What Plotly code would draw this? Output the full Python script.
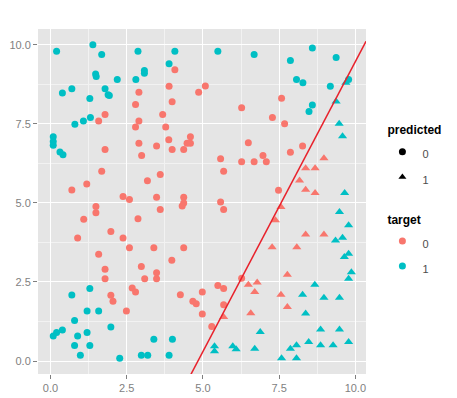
import plotly.graph_objects as go

# target 0, predicted 0 (salmon circles)
t0p0_x = [4.08, 3.89, 4.86, 2.90, 3.99, 2.79, 1.79, 1.58, 3.68, 2.90, 2.79, 3.78, 4.59, 3.88, 4.48, 4.59,
          2.90, 3.48, 3.99, 4.37, 2.99, 1.79, 1.68, 3.60, 3.18, 1.19, 0.70,
          2.38, 2.59, 3.48, 4.37, 4.37, 4.32, 1.49, 1.49,
          1.09, 3.60, 2.87, 0.89, 1.98, 2.38, 2.59, 3.39, 4.37, 3.98, 1.58, 2.98, 1.79, 1.79, 3.09,
          3.48, 3.48, 2.68, 2.79, 1.98, 2.05, 4.26, 4.67, 4.78, 2.49,
          5.08, 7.58, 6.27, 7.28, 7.68, 6.49, 8.27, 7.87, 6.97, 5.58, 6.27, 6.68, 7.08, 5.68, 7.48, 5.58,
          5.68, 5.49, 5.68, 4.98, 5.68, 4.98, 5.29, 6.27]
t0p0_y = [9.21, 8.69, 8.50, 8.50, 8.20, 8.11, 7.80, 7.59, 7.80, 7.59, 7.40, 7.40, 7.09, 7.00, 6.89, 6.89,
          6.89, 6.80, 6.69, 6.69, 6.50, 6.69, 6.00, 5.90, 5.70, 5.60, 5.41,
          5.20, 5.11, 5.18, 5.18, 5.00, 4.90, 4.89, 4.69,
          4.48, 4.79, 4.50, 3.89, 4.10, 3.89, 3.58, 3.58, 3.58, 3.19, 3.38, 2.99, 2.90, 2.60, 2.60,
          2.79, 2.60, 2.31, 2.18, 2.08, 1.89, 2.10, 1.89, 1.81, 1.58,
          8.70, 8.31, 8.01, 7.70, 7.50, 6.90, 6.80, 6.60, 6.50, 6.40, 6.30, 6.30, 6.30, 6.00, 5.40, 5.03,
          4.79, 2.39, 2.29, 2.18, 1.78, 1.49, 1.09, 2.62]

# target 0, predicted 1 (salmon triangles)
t0p1_x = [8.97, 8.37, 8.68, 8.17, 8.37, 8.68, 7.56, 7.38, 8.37, 8.97, 7.27, 8.08, 7.77, 6.49, 6.78,
          6.70, 7.56, 7.77, 6.57, 5.68]
t0p1_y = [6.41, 6.10, 6.10, 5.71, 5.42, 5.31, 4.87, 4.45, 4.00, 4.00, 3.60, 3.60, 2.73, 2.41, 2.48,
          2.18, 2.10, 1.71, 1.51, 1.39]

# target 1, predicted 0 (teal circles)
t1p0_x = [0.20, 1.39, 1.68, 1.48, 1.50, 0.70, 0.39, 1.79, 1.89, 1.93, 1.29, 2.19, 2.80, 2.87, 3.08, 3.08,
          4.08, 3.89, 1.31, 1.08, 0.80, 0.09, 0.09, 0.09, 0.31, 0.41,
          1.29, 0.70, 1.20, 1.58, 0.79, 1.98, 0.39, 0.20, 0.09, 0.89, 1.20, 0.79, 1.29, 0.98, 2.27,
          2.98, 3.19, 3.39, 4.00, 3.89,
          5.49, 6.68, 8.59, 7.87, 9.37, 8.07, 8.28, 9.18, 9.78, 8.59, 8.48]
t1p0_y = [9.80, 10.00, 9.69, 9.08, 9.00, 8.61, 8.48, 8.61, 8.42, 8.40, 8.30, 8.90, 8.90, 9.80, 9.19, 9.10,
          9.80, 9.40, 7.70, 7.59, 7.49, 7.09, 6.94, 6.82, 6.61, 6.52,
          2.29, 2.09, 1.58, 1.58, 1.28, 1.08, 0.98, 0.90, 0.79, 0.79, 0.90, 0.49, 0.49, 0.18, 0.09,
          0.18, 0.18, 0.69, 0.69, 0.18,
          9.80, 9.69, 9.90, 9.50, 9.60, 8.90, 8.80, 8.69, 8.90, 8.10, 7.89]

# target 1, predicted 1 (teal triangles)
t1p1_x = [9.69, 9.37, 9.47, 9.58, 9.65, 9.48, 9.78, 9.35, 9.58, 9.64, 9.78, 9.87, 9.78, 8.67, 8.27,
          8.97, 9.48, 8.37, 6.88, 8.86, 9.48, 8.47, 8.86, 9.27, 9.78, 7.87, 8.07, 7.58, 8.07,
          5.38, 5.38, 5.98, 6.09, 6.70]
t1p1_y = [8.80, 8.21, 7.50, 7.11, 5.31, 4.71, 4.29, 3.81, 3.90, 3.29, 3.39, 2.81, 2.60, 2.41, 2.10,
          2.00, 2.00, 1.50, 0.92, 1.00, 1.00, 0.60, 0.50, 0.50, 0.60, 0.39, 0.50, 0.09, 0.09,
          0.47, 0.31, 0.47, 0.37, 0.39]

line_intercept = -8.87
line_slope = 1.834

x_tick_vals = [0, 2.5, 5, 7.5, 10]
x_tick_text = ["0.0", "2.5", "5.0", "7.5", "10.0"]
y_tick_vals = [0, 2.5, 5, 7.5, 10]
y_tick_text = ["0.0", "2.5", "5.0", "7.5", "10.0"]

SALMON = "#F8766D"
TEAL = "#00BFC4"
XR = [-0.41, 10.35]
YR = [-0.41, 10.5]

fig = go.Figure()

def pts(x, y, color, symbol, size):
    fig.add_trace(go.Scatter(x=x, y=y, mode="markers", showlegend=False, hoverinfo="skip",
                             marker=dict(color=color, symbol=symbol, size=size, line=dict(width=0))))

pts(t0p0_x, t0p0_y, SALMON, "circle", 7)
pts(t0p1_x, t0p1_y, SALMON, "triangle-up", 8)
pts(t1p0_x, t1p0_y, TEAL, "circle", 7)
pts(t1p1_x, t1p1_y, TEAL, "triangle-up", 8)

lx = [XR[0], XR[1]]
ly = [line_intercept + line_slope * v for v in lx]
fig.add_trace(go.Scatter(x=lx, y=ly, mode="lines", showlegend=False, hoverinfo="skip",
                         line=dict(color="#E8212B", width=1.5)))

# legend entries
def leg(name, group, title, color, symbol):
    fig.add_trace(go.Scatter(
        x=[None], y=[None], mode="markers",
        name="<span style='font-size:11px'>" + name + "</span>", legendgroup=group,
        legendgrouptitle=dict(text="<b>" + title + "</b>",
                              font=dict(size=12, color="black")),
        marker=dict(color=color, symbol=symbol, size=7)))

leg("0", "predicted", "predicted", "black", "circle")
leg("1", "predicted", "predicted", "black", "triangle-up")
leg("0", "target", "target", SALMON, "circle")
leg("1", "target", "target", TEAL, "circle")

axis_common = dict(showgrid=True, gridcolor="white", gridwidth=1.2, zeroline=False,
                   automargin=False,
                   ticks="outside", ticklen=4, tickcolor="#7F7F7F",
                   tickfont=dict(size=11, color="#7F7F7F", family="Liberation Sans, Arial"),
                   showline=False,
                   minor=dict(dtick=1.25, tick0=0, showgrid=True, gridcolor="#F2F2F2", gridwidth=0.6, ticks=""))

fig.update_xaxes(range=XR, tickvals=x_tick_vals, ticktext=x_tick_text, **axis_common)
fig.update_yaxes(range=YR, tickvals=y_tick_vals, ticktext=y_tick_text, **axis_common)

fig.update_layout(
    width=449, height=390,
    margin=dict(l=29.5, r=91.3, t=20.5, b=24.3, autoexpand=False),
    plot_bgcolor="#E5E5E5", paper_bgcolor="white",
    font=dict(family="Liberation Sans, Arial", size=11, color="black"),
    legend=dict(x=1.05, y=0.75, xanchor="left", yanchor="top", tracegroupgap=20,
                font=dict(size=17, color="#4D4D4D"), bgcolor="rgba(0,0,0,0)", itemwidth=30),
)

fig.write_html("out.html")
